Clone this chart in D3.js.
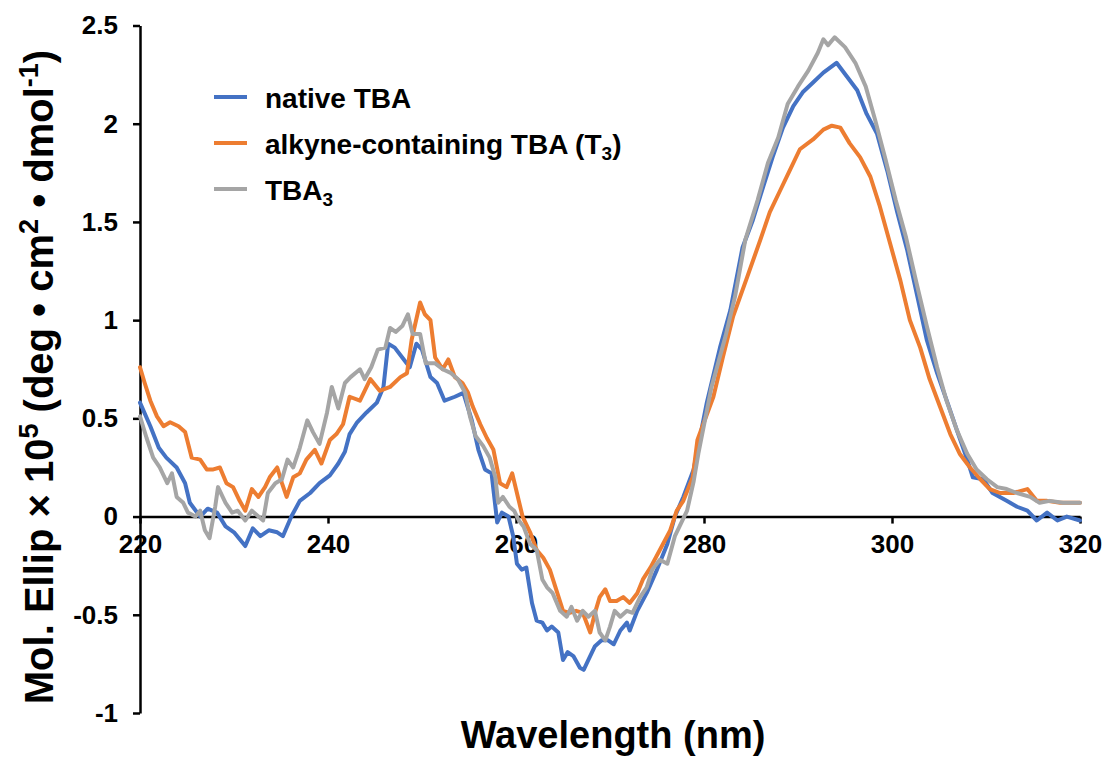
<!DOCTYPE html>
<html><head><meta charset="utf-8">
<script src="https://cdn.jsdelivr.net/npm/d3@7/dist/d3.min.js"></script>
<style>
body{margin:0;background:#fff}
svg{display:block}
text{font-family:"Liberation Sans",Arial,Helvetica,sans-serif;font-weight:bold;fill:#000}
</style>
</head><body>
<svg id="c" width="1104" height="758"></svg>
<script>
// ---- data ----
const xTicks=[220,240,260,280,300,320];
const yTicks=[-1,-0.5,0,0.5,1,1.5,2,2.5];
const yTickLabels=["-1","-0.5","0","0.5","1","1.5","2","2.5"];
const seriesNames=["native TBA","alkyne-containing TBA (T","TBA"];
const seriesSubs=["","3",")","3"];
const seriesColors=["#4472C4","#ED7D31","#A5A5A5"];

const nativeWl=[220.0,221.1,222.0,222.8,223.9,224.8,225.3,226.4,227.2,228.2,229.1,230.0,231.2,232.0,232.8,233.7,234.6,235.2,236.1,237.0,238.1,239.1,240.2,241.1,241.8,242.3,243.1,244.1,245.2,245.9,246.4,247.1,247.9,248.7,249.4,250.0,250.9,251.6,252.4,253.5,254.4,255.3,256.0,256.7,257.4,258.0,258.5,259.2,259.7,260.1,260.6,261.1,261.7,262.2,262.8,263.3,263.8,264.5,265.0,265.5,266.1,266.8,267.2,267.7,268.4,269.1,269.8,270.4,271.1,271.8,272.1,272.9,273.9,275.0,276.1,276.9,277.8,278.9,280.3,281.7,282.8,284.1,285.2,286.3,287.3,288.4,289.5,290.5,291.6,292.7,294.1,295.2,296.3,297.3,298.4,299.5,300.5,301.6,302.7,303.7,304.8,305.9,306.9,308.0,308.6,309.7,310.7,312.2,313.3,314.4,315.4,316.5,317.6,318.6,320.0];
const nativeVal=[0.58,0.46,0.35,0.30,0.25,0.17,0.07,0.00,0.04,0.02,-0.05,-0.08,-0.15,-0.06,-0.10,-0.07,-0.08,-0.10,0.00,0.08,0.12,0.17,0.21,0.27,0.33,0.42,0.48,0.53,0.58,0.66,0.88,0.86,0.81,0.76,0.88,0.85,0.71,0.68,0.59,0.61,0.63,0.49,0.34,0.24,0.22,-0.03,0.02,0.00,-0.10,-0.24,-0.27,-0.26,-0.44,-0.53,-0.54,-0.58,-0.56,-0.59,-0.73,-0.69,-0.71,-0.77,-0.78,-0.73,-0.66,-0.63,-0.63,-0.65,-0.58,-0.54,-0.58,-0.48,-0.39,-0.27,-0.14,0.00,0.10,0.24,0.58,0.86,1.05,1.37,1.51,1.68,1.83,1.98,2.09,2.16,2.21,2.26,2.31,2.24,2.17,2.05,1.95,1.76,1.56,1.36,1.12,0.90,0.73,0.58,0.44,0.29,0.20,0.19,0.12,0.08,0.05,0.03,-0.02,0.02,-0.02,0.00,-0.02];

const alkyneWl=[220.0,220.5,221.1,221.8,222.5,223.2,224.1,224.8,225.5,226.4,227.1,227.8,228.5,229.2,229.9,230.6,231.2,231.9,232.6,233.3,233.8,234.6,235.1,235.6,236.3,237.0,237.7,238.6,239.3,240.2,240.9,241.6,242.3,243.4,244.5,245.5,246.6,247.7,248.4,248.9,249.8,250.3,250.9,251.4,252.2,252.8,253.5,254.3,254.9,255.4,256.2,256.9,257.6,258.3,259.0,259.6,260.2,260.7,261.5,262.2,262.9,263.6,264.4,265.0,265.7,266.4,267.1,267.9,268.4,268.9,269.5,270.0,270.7,271.4,272.1,272.9,273.5,274.3,275.3,276.4,277.1,277.8,278.8,279.3,281.0,282.0,283.1,284.6,286.0,287.0,288.1,289.1,290.2,291.6,292.7,293.6,294.5,295.5,296.6,297.7,298.7,299.8,300.9,301.9,303.0,304.0,305.1,306.2,307.2,308.3,309.4,310.4,311.5,312.9,314.4,315.4,316.5,317.9,320.0];
const alkyneVal=[0.76,0.68,0.59,0.51,0.46,0.48,0.46,0.43,0.30,0.29,0.24,0.24,0.25,0.17,0.15,0.08,0.03,0.14,0.10,0.15,0.20,0.25,0.17,0.10,0.20,0.22,0.29,0.34,0.27,0.39,0.42,0.47,0.61,0.59,0.70,0.64,0.66,0.71,0.73,0.90,1.09,1.03,1.00,0.81,0.75,0.80,0.71,0.68,0.63,0.56,0.47,0.40,0.34,0.17,0.15,0.22,0.10,0.00,-0.08,-0.17,-0.21,-0.27,-0.39,-0.48,-0.49,-0.48,-0.49,-0.59,-0.49,-0.41,-0.37,-0.43,-0.43,-0.41,-0.44,-0.39,-0.32,-0.26,-0.17,-0.07,0.03,0.08,0.20,0.39,0.61,0.81,1.02,1.22,1.41,1.55,1.66,1.76,1.87,1.92,1.97,1.99,1.98,1.90,1.83,1.73,1.58,1.39,1.20,1.00,0.86,0.70,0.56,0.42,0.32,0.25,0.19,0.14,0.12,0.12,0.14,0.08,0.08,0.07,0.07];

const tba3Wl=[220.0,220.7,221.4,222.1,222.9,223.4,223.9,224.6,225.1,225.9,226.4,226.9,227.4,228.0,228.3,229.1,229.8,230.4,231.2,231.9,232.6,233.1,233.6,234.4,235.1,235.7,236.3,237.0,237.8,238.4,239.1,239.9,240.4,241.1,241.8,242.4,243.4,243.9,244.6,245.3,246.1,246.6,247.2,247.9,248.5,249.0,249.8,250.4,251.4,252.2,253.1,253.8,254.6,255.1,255.7,256.5,257.2,257.8,258.1,258.6,259.3,259.8,260.3,260.8,261.5,262.2,262.8,263.3,263.9,264.7,265.4,265.9,266.5,267.1,267.7,268.4,268.9,269.5,270.0,270.5,271.1,271.8,272.4,273.2,273.9,274.5,275.3,276.1,276.9,277.4,278.2,278.9,279.4,280.8,282.3,283.3,284.4,285.7,286.8,287.9,288.9,290.0,291.1,292.1,292.7,293.2,293.9,295.0,296.1,297.2,298.2,299.3,300.4,301.5,302.6,303.7,304.8,305.8,306.9,308.0,309.0,310.1,311.2,312.2,313.3,314.7,315.7,316.8,318.2,320.0];
const tba3Val=[0.51,0.40,0.30,0.25,0.17,0.22,0.10,0.07,0.02,0.00,0.03,-0.07,-0.11,0.05,0.15,0.07,0.02,0.03,-0.02,0.03,0.00,-0.02,0.12,0.17,0.19,0.29,0.25,0.35,0.49,0.43,0.37,0.53,0.66,0.55,0.68,0.71,0.75,0.70,0.76,0.85,0.86,0.96,0.94,0.97,1.03,0.93,0.93,0.78,0.78,0.75,0.73,0.70,0.63,0.51,0.41,0.36,0.30,0.20,0.07,0.10,0.05,0.03,-0.02,-0.05,-0.14,-0.17,-0.32,-0.36,-0.39,-0.48,-0.51,-0.46,-0.53,-0.48,-0.51,-0.48,-0.59,-0.63,-0.56,-0.48,-0.51,-0.48,-0.49,-0.41,-0.36,-0.27,-0.22,-0.24,-0.10,-0.05,0.03,0.18,0.32,0.66,0.92,1.12,1.41,1.61,1.80,1.93,2.10,2.19,2.27,2.36,2.43,2.40,2.44,2.39,2.31,2.19,2.02,1.82,1.61,1.42,1.19,0.97,0.76,0.59,0.44,0.32,0.24,0.19,0.15,0.14,0.12,0.10,0.07,0.08,0.07,0.07];

// ---- chart ----
const svg=d3.select("#c");
const x=d3.scaleLinear().domain([220,320]).range([140,1080]);
const y=d3.scaleLinear().domain([-1,2.5]).range([713,25.5]);

const series=[
  {wl:nativeWl,val:nativeVal,color:seriesColors[0]},
  {wl:alkyneWl,val:alkyneVal,color:seriesColors[1]},
  {wl:tba3Wl,val:tba3Val,color:seriesColors[2]}
];

// axes
const yAxis=d3.axisLeft(y).tickValues(yTicks).tickSize(7).tickSizeOuter(0).tickPadding(15)
  .tickFormat((d,i)=>yTickLabels[i]);
const gy=svg.append("g").attr("transform",`translate(${x(220)},0)`).call(yAxis);
const xAxis=d3.axisBottom(x).tickValues(xTicks).tickSize(7).tickSizeOuter(0).tickPadding(11)
  .tickFormat(d=>String(d));
const gx=svg.append("g").attr("transform",`translate(0,${y(0)})`).call(xAxis);
[gx,gy].forEach(g=>{
  g.select(".domain").attr("stroke","#000").attr("stroke-width",2.5);
  g.selectAll(".tick line").attr("stroke","#000").attr("stroke-width",2.5);
  g.selectAll(".tick text").style("font-size","26px").attr("fill","#000");
});

// lines
const line=d3.line().x(d=>x(d[0])).y(d=>y(d[1]));
series.forEach(s=>{
  svg.append("path").datum(s.wl.map((w,i)=>[w,s.val[i]]))
    .attr("fill","none").attr("stroke",s.color).attr("stroke-width",4)
    .attr("stroke-linejoin","round").attr("stroke-linecap","round")
    .attr("d",line);
});

// legend
const legY=[97,143,189];
series.forEach((s,i)=>{
  svg.append("line").attr("x1",214).attr("x2",247).attr("y1",legY[i]).attr("y2",legY[i])
    .attr("stroke",s.color).attr("stroke-width",4);
});
const lt=(i)=>svg.append("text").attr("x",265).attr("y",legY[i]+11).style("font-size","28px");
lt(0).text(seriesNames[0]);
{
  const t=lt(1); t.append("tspan").text(seriesNames[1]);
  t.append("tspan").attr("dy",6).style("font-size","19px").text(seriesSubs[1]);
  t.append("tspan").attr("dy",-6).text(seriesSubs[2]);
}
{
  const t=lt(2); t.append("tspan").text(seriesNames[2]);
  t.append("tspan").attr("dy",6).style("font-size","19px").text(seriesSubs[3]);
}

// axis titles
svg.append("text").attr("x",613).attr("y",748).attr("text-anchor","middle")
  .style("font-size","38px").text("Wavelength (nm)");
const yt=svg.append("text").attr("transform","translate(53,377) rotate(-90)")
  .attr("text-anchor","middle").style("font-size","40px");
yt.append("tspan").text("Mol. Ellip × 10");
yt.append("tspan").attr("dy",-15).style("font-size","27px").text("5");
yt.append("tspan").attr("dy",15).text(" (deg • cm");
yt.append("tspan").attr("dy",-15).style("font-size","27px").text("2");
yt.append("tspan").attr("dy",15).text(" • dmol");
yt.append("tspan").attr("dy",-15).style("font-size","27px").text("-1");
yt.append("tspan").attr("dy",15).text(")");
</script>
</body></html>
